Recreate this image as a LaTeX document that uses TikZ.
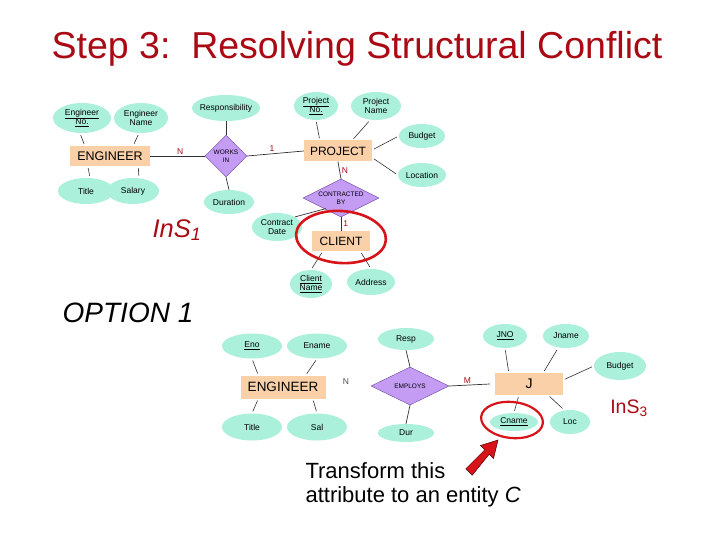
\documentclass[tikz,border=0pt]{standalone}
\usepackage{fontspec}
\setmainfont{Liberation Sans}
\usetikzlibrary{shapes.geometric}
\definecolor{attr}{RGB}{170,240,218}
\definecolor{rel}{RGB}{196,156,244}
\definecolor{relb}{RGB}{110,70,160}
\definecolor{ent}{RGB}{250,208,168}
\definecolor{dred}{RGB}{170,10,20}
\definecolor{ring}{RGB}{215,20,25}
\tikzset{
  attrib/.style={ellipse, fill=attr, inner sep=0pt},
  alab/.style={font=\fontsize{8.5}{9.5}\selectfont, align=center, inner sep=0pt},
  entity/.style={rectangle, fill=ent, inner sep=0pt},
  relship/.style={diamond, fill=rel, draw=relb, line width=0.4pt, inner sep=0pt},
  rlab/.style={font=\fontsize{6.5}{7.5}\selectfont, align=center, inner sep=0pt},
  link/.style={draw=black!80, line width=0.7pt},
  alink/.style={draw=black!80, line width=0.6pt, shorten <=2pt, shorten >=2pt},
  card/.style={font=\fontsize{8.5}{9}\selectfont, inner sep=0pt},
  redring/.style={draw=ring, line width=2.6pt}
}
\begin{document}
\begin{tikzpicture}[x=1pt,y=-1pt]
\useasboundingbox (0,0) rectangle (720,540);
\fill[white] (0,0) rectangle (720,540);
\node[text=dred, font=\fontsize{37.5}{40}\selectfont, anchor=base] (title) at (357,59) {Step 3:\ \ Resolving Structural Conflict};

% ---------------- top diagram ----------------
\node[entity, minimum width=80, minimum height=20, font=\fontsize{12.5}{13}\selectfont] (eng1) at (110,156) {ENGINEER};
\node[attrib, minimum width=58, minimum height=30, label={[alab]center:\underline{Engineer}\\[-1pt]\underline{No.}}] (engno) at (82,118) {};
\node[attrib, minimum width=54, minimum height=30, label={[alab]center:Engineer\\[-1pt]Name}] (engname) at (141,118) {};
\node[attrib, minimum width=56, minimum height=26, label={[alab]center:Title}] (title1) at (86,191) {};
\node[attrib, minimum width=52, minimum height=26, label={[alab]center:Salary}] (salary) at (133,191) {};
\node[relship, minimum width=42, minimum height=42, label={[rlab]center:WORKS\\IN}] (works) at (226,156) {};
\node[attrib, minimum width=68, minimum height=26, label={[alab]center:Responsibility}] (resp1) at (226,108) {};
\node[attrib, minimum width=50, minimum height=24, label={[alab]center:Duration}] (dur1) at (229,202) {};
\node[entity, minimum width=68, minimum height=21, font=\fontsize{12}{13}\selectfont] (proj) at (338,151) {PROJECT};
\node[attrib, minimum width=44, minimum height=28, label={[alab]center:\underline{Project}\\[-1pt]\underline{No.}}] (projno) at (316,106) {};
\node[attrib, minimum width=50, minimum height=28, label={[alab]center:Project\\[-1pt]Name}] (projname) at (376,106) {};
\node[attrib, minimum width=46, minimum height=24, label={[alab]center:Budget}] (budget1) at (422,136) {};
\node[attrib, minimum width=48, minimum height=24, label={[alab]center:Location}] (loc1) at (422,175) {};
\node[relship, minimum width=76, minimum height=38, label={[rlab]center:CONTRACTED\\BY}] (contr) at (341,198) {};
\node[attrib, minimum width=50, minimum height=28, label={[alab]center:Contract\\[-1pt]Date}] (cdate) at (277,227) {};
\node[entity, minimum width=58, minimum height=20, font=\fontsize{12}{13}\selectfont] (client) at (341,241) {CLIENT};
\node[attrib, minimum width=42, minimum height=28, label={[alab]center:\underline{Client}\\[-1pt]\underline{Name}}] (cname1) at (311,284) {};
\node[attrib, minimum width=48, minimum height=26, label={[alab]center:Address}] (addr) at (371,282) {};

\draw[alink] ([xshift=-2pt]engno.south) -- ([xshift=15pt]eng1.north west);
\draw[alink] ([xshift=-2pt]engname.south) -- ([xshift=-17pt]eng1.north east);
\draw[alink] ([xshift=4pt]title1.north) -- ([xshift=18pt]eng1.south west);
\draw[alink] ([xshift=6pt]salary.north) -- ([xshift=-12pt]eng1.south east);
\draw[link] (eng1.east) -- node[card, above, text=dred, pos=0.55, yshift=1pt] {N} (works.west);
\draw[link] (works.north) -- (resp1.south);
\draw[link] (works.south) -- (dur1.north);
\draw[link] (works.east) -- node[card, above, text=dred, pos=0.44, yshift=2pt] {1} (proj.west);
\draw[alink] (projno.south) -- ([xshift=16pt]proj.north west);
\draw[alink] ([xshift=-6pt]projname.south) -- ([xshift=-20pt]proj.north east);
\draw[alink] (budget1.west) -- ([yshift=1pt]proj.east);
\draw[alink] (loc1.west) -- ([yshift=4pt]proj.south east);
\draw[link] (proj.south) -- node[card, right, text=dred, xshift=2pt] {N} (contr.north);
\draw[link] ([xshift=4pt,yshift=-1pt]contr.south west) -- (cdate.north east);
\draw[link] (contr.south) -- node[card, right, text=dred, xshift=2pt] {1} (client.north);
\draw[alink] (cname1.north) -- ([xshift=11pt]client.south west);
\draw[alink] (addr.north) -- ([xshift=-10pt]client.south east);
\draw[redring, rotate around={-4:(341,237)}] (341,237) ellipse [x radius=45, y radius=26];

\node[text=dred, font=\itshape\fontsize{25.5}{26}\selectfont] (ins1) at (177,230) {InS\textsubscript{1}};
\node[font=\itshape\fontsize{28}{29}\selectfont] (opt) at (128,313) {OPTION 1};

% ---------------- bottom diagram ----------------
\node[entity, minimum width=85, minimum height=23, font=\fontsize{13.5}{14}\selectfont] (eng2) at (283,387) {ENGINEER};
\node[attrib, minimum width=60, minimum height=25, label={[alab]center:\underline{Eno}}] (eno) at (252,346) {};
\node[attrib, minimum width=60, minimum height=25, label={[alab]center:Ename}] (ename) at (317,346) {};
\node[attrib, minimum width=60, minimum height=27, label={[alab]center:Title}] (title2) at (252,427) {};
\node[attrib, minimum width=60, minimum height=27, label={[alab]center:Sal}] (sal) at (317,427) {};
\node[relship, minimum width=78, minimum height=38, label={[rlab]center:EMPLOYS}] (emp) at (410,386) {};
\node[attrib, minimum width=56, minimum height=22, label={[alab]center:Resp}] (resp2) at (406,339) {};
\node[attrib, minimum width=56, minimum height=18, label={[alab]center:Dur}] (dur2) at (406,433) {};
\node[entity, minimum width=68, minimum height=22, font=\fontsize{14}{15}\selectfont] (j) at (529,384) {J};
\node[attrib, minimum width=44, minimum height=24, label={[alab]center:\underline{JNO}}] (jno) at (505,336) {};
\node[attrib, minimum width=46, minimum height=24, label={[alab]center:Jname}] (jname) at (566,336) {};
\node[attrib, minimum width=52, minimum height=28, label={[alab]center:Budget}] (budget2) at (620,366) {};
\node[attrib, minimum width=40, minimum height=24, label={[alab]center:Loc}] (loc2) at (570,422) {};
\node[attrib, minimum width=48, minimum height=18, label={[alab]center:\underline{Cname}}] (cname2) at (514,422) {};

\draw[alink] (eno.south) -- ([xshift=18pt]eng2.north west);
\draw[alink] (ename.south) -- ([xshift=-20pt]eng2.north east);
\draw[alink] (title2.north) -- ([xshift=18pt]eng2.south west);
\draw[alink] (sal.north) -- ([xshift=-13pt]eng2.south east);
\node[card, text=black!70] (nlab) at (346,382) {N};
\draw[link] (emp.north) -- (resp2.south);
\draw[link] (emp.south) -- (dur2.north);
\draw[link] (emp.east) -- node[card, above, text=dred, pos=0.45, yshift=1pt] {M} ([xshift=-5pt]j.west);
\draw[alink] (jno.south) -- ([xshift=14pt]j.north west);
\draw[alink] ([xshift=-8pt]jname.south) -- ([xshift=-20pt]j.north east);
\draw[alink] (budget2.west) -- ([yshift=4pt]j.east);
\draw[alink] ([xshift=-6pt]loc2.north) -- ([xshift=-15pt]j.south east);
\draw[alink] (cname2.north) -- ([xshift=24pt]j.south west);
\draw[redring, line width=2.2pt, rotate around={-6:(512,420)}] (512,420) ellipse [x radius=31, y radius=18];

\node[text=dred, font=\fontsize{19.5}{20}\selectfont] (ins3) at (629,408) {InS\textsubscript{3}};

% arrow
\fill[ring, draw=black!70!red, line width=0.5pt]
  (465.8,468.8) -- (484.8,449.8) -- (480.5,445.5) -- (498,440) -- (493.5,458.5) -- (489.2,454.2) -- (472.2,475.2) -- cycle;

\node[anchor=west, align=left, font=\fontsize{22}{24.5}\selectfont] (txt) at (302,485) {Transform this\\attribute to an entity \textit{C}};
\end{tikzpicture}
\end{document}
